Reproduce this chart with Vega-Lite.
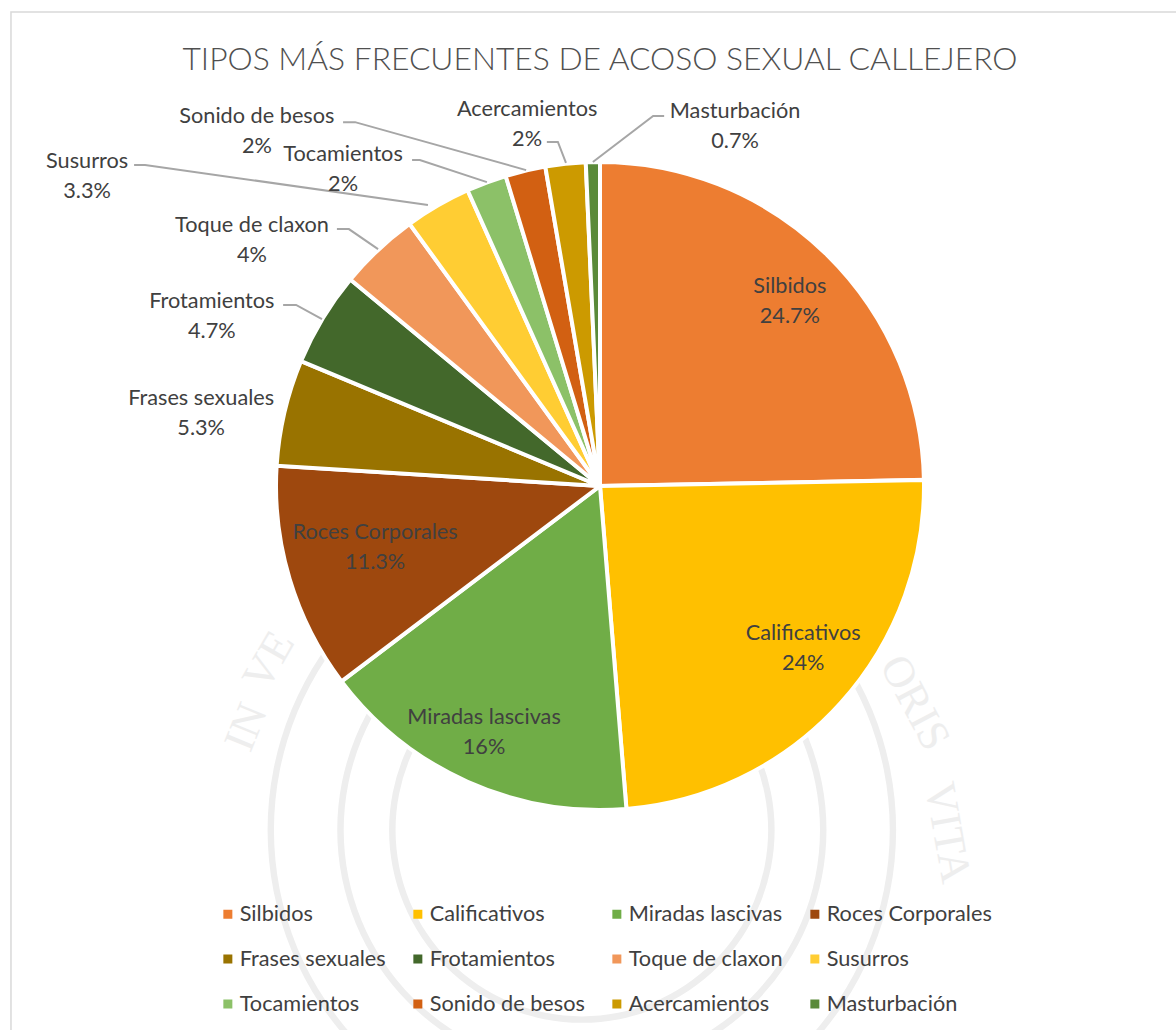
{"$schema":"https://vega.github.io/schema/vega-lite/v6.json","width":1176,"height":1030,"padding":0,"autosize":"none","background":"white","view":{"stroke":null},
"title":{"text":"TIPOS MÁS FRECUENTES DE ACOSO SEXUAL CALLEJERO","orient":"top","anchor":"middle","dx":12,"offset":-77,"font":"Lato","fontSize":31.8,"fontWeight":300,"color":"#505050"},
"datasets":{
"slices":[{"tipo":"Silbidos","pct":24.7,"ord":1},{"tipo":"Calificativos","pct":24,"ord":2},{"tipo":"Miradas lascivas","pct":16,"ord":3},{"tipo":"Roces Corporales","pct":11.3,"ord":4},{"tipo":"Frases sexuales","pct":5.3,"ord":5},{"tipo":"Frotamientos","pct":4.7,"ord":6},{"tipo":"Toque de claxon","pct":4,"ord":7},{"tipo":"Susurros","pct":3.3,"ord":8},{"tipo":"Tocamientos","pct":2,"ord":9},{"tipo":"Sonido de besos","pct":2,"ord":10},{"tipo":"Acercamientos","pct":2,"ord":11},{"tipo":"Masturbación","pct":0.7,"ord":12}],
"labels":[{"tipo":"Silbidos","txt":"24.7%","u":0.586,"v":0.574},{"tipo":"Calificativos","txt":"24%","u":0.627,"v":-0.497},{"tipo":"Miradas lascivas","txt":"16%","u":-0.358,"v":-0.756},{"tipo":"Roces Corporales","txt":"11.3%","u":-0.694,"v":-0.185},{"tipo":"Frases sexuales","txt":"5.3%","u":-1.231,"v":0.228},{"tipo":"Frotamientos","txt":"4.7%","u":-1.198,"v":0.528},{"tipo":"Toque de claxon","txt":"4%","u":-1.074,"v":0.762},{"tipo":"Susurros","txt":"3.3%","u":-1.583,"v":0.96},{"tipo":"Tocamientos","txt":"2%","u":-0.793,"v":0.981},{"tipo":"Sonido de besos","txt":"2%","u":-1.059,"v":1.099},{"tipo":"Acercamientos","txt":"2%","u":-0.225,"v":1.12},{"tipo":"Masturbación","txt":"0.7%","u":0.417,"v":1.114}],
"leaders":[{"tipo":"Sonido de besos","s":1,"u":-0.793,"v":1.123},{"tipo":"Sonido de besos","s":2,"u":-0.756,"v":1.123},{"tipo":"Sonido de besos","s":3,"u":-0.228,"v":0.975},{"tipo":"Tocamientos","s":1,"u":-0.58,"v":1.006},{"tipo":"Tocamientos","s":2,"u":-0.556,"v":1.006},{"tipo":"Tocamientos","s":3,"u":-0.349,"v":0.938},{"tipo":"Susurros","s":1,"u":-1.438,"v":0.991},{"tipo":"Susurros","s":2,"u":-1.404,"v":0.991},{"tipo":"Susurros","s":3,"u":-0.531,"v":0.867},{"tipo":"Toque de claxon","s":1,"u":-0.812,"v":0.793},{"tipo":"Toque de claxon","s":2,"u":-0.775,"v":0.793},{"tipo":"Toque de claxon","s":3,"u":-0.685,"v":0.731},{"tipo":"Frotamientos","s":1,"u":-0.978,"v":0.559},{"tipo":"Frotamientos","s":2,"u":-0.938,"v":0.559},{"tipo":"Frotamientos","s":3,"u":-0.858,"v":0.515},{"tipo":"Acercamientos","s":1,"u":-0.164,"v":1.062},{"tipo":"Acercamientos","s":2,"u":-0.13,"v":1.062},{"tipo":"Acercamientos","s":3,"u":-0.105,"v":0.997},{"tipo":"Masturbación","s":1,"u":0.198,"v":1.142},{"tipo":"Masturbación","s":2,"u":0.164,"v":1.142},{"tipo":"Masturbación","s":3,"u":-0.022,"v":1.0}],
"rings":[{"r":0.95,"r2":0.97},{"r":0.735,"r2":0.755},{"r":0.575,"r2":0.595}],
"seal":[{"w":"IN","u":-1.09,"v":-0.745,"a":292},{"w":"VE","u":-1.02,"v":-0.54,"a":300},{"w":"ORIS","u":0.97,"v":-0.67,"a":62},{"w":"VITA","u":1.07,"v":-1.07,"a":80}]
},
"encoding":{},
"layer":[
{"data":{"name":"rings"},"mark":{"type":"arc","theta":0,"theta2":6.2832,"fill":"#eeeeee"},"encoding":{
"x":{"datum":-0.056,"type":"quantitative","scale":{"domain":[-1.85185,1.77778],"range":[0,1176],"nice":false,"zero":false},"axis":null},
"y":{"datum":-1.062,"type":"quantitative","scale":{"domain":[-1.679,1.5],"range":[1030,0],"nice":false,"zero":false},"axis":null},
"radius":{"field":"r","type":"quantitative","scale":{"type":"linear","domain":[0,1],"range":[0,324],"zero":true,"nice":false}},
"radius2":{"field":"r2"}}},
{"data":{"name":"seal"},"mark":{"type":"text","font":"Liberation Serif","fontSize":44,"color":"#eeeeee","align":"center","baseline":"middle"},"encoding":{
"x":{"field":"u","type":"quantitative"},"y":{"field":"v","type":"quantitative"},"text":{"field":"w"},"angle":{"field":"a","type":"quantitative","scale":{"domain":[0,360],"range":[0,360]}}}},
{"data":{"values":[{"a":-1.818,"b":1.463,"c":1.9,"d":-1.8}]},"mark":{"type":"rect","fill":null,"stroke":"#d9d9d9","strokeWidth":1.5},"encoding":{
"x":{"field":"a","type":"quantitative"},"x2":{"field":"c"},"y":{"field":"b","type":"quantitative"},"y2":{"field":"d"}}},
{"data":{"name":"slices"},"mark":{"type":"arc","stroke":"white","strokeWidth":4},"encoding":{
"x":{"datum":0,"type":"quantitative"},"y":{"datum":0,"type":"quantitative"},
"radius":{"datum":1,"type":"quantitative"},
"theta":{"field":"pct","type":"quantitative","stack":true,"scale":{"domain":[0,100],"range":[0,6.28319]}},
"order":{"field":"ord","type":"quantitative"},
"color":{"field":"tipo","type":"nominal","scale":{"domain":["Silbidos","Calificativos","Miradas lascivas","Roces Corporales","Frases sexuales","Frotamientos","Toque de claxon","Susurros","Tocamientos","Sonido de besos","Acercamientos","Masturbación"],"range":["#ED7D31","#FFC000","#70AD47","#9E480E","#997300","#43682B","#F1975A","#FFCD33","#8CC168","#D26012","#CC9A00","#5A8A39"]},
"legend":{"title":null,"orient":"none","direction":"horizontal","legendX":217,"legendY":903,"columns":4,"symbolType":"square","symbolSize":81,"symbolStrokeWidth":0,"labelFont":"Lato","labelFontSize":21.7,"labelColor":"#404040","labelLimit":300,"rowPadding":22,"columnPadding":21,"labelOffset":1,"symbolOffset":0,"clipHeight":22}}}},
{"data":{"name":"leaders"},"mark":{"type":"line","color":"#a6a6a6","strokeWidth":2},"encoding":{
"x":{"field":"u","type":"quantitative"},"y":{"field":"v","type":"quantitative"},"detail":{"field":"tipo"},"order":{"field":"s","type":"quantitative"}}},
{"data":{"name":"labels"},"mark":{"type":"text","font":"Lato","fontSize":21.7,"color":"#404040","dy":-14,"align":"center","baseline":"middle"},"encoding":{
"x":{"field":"u","type":"quantitative"},"y":{"field":"v","type":"quantitative"},"text":{"field":"tipo"}}},
{"data":{"name":"labels"},"mark":{"type":"text","font":"Lato","fontSize":21.7,"color":"#404040","dy":16,"align":"center","baseline":"middle"},"encoding":{
"x":{"field":"u","type":"quantitative"},"y":{"field":"v","type":"quantitative"},"text":{"field":"txt"}}}
],
"resolve":{"scale":{"color":"independent"}}
}
